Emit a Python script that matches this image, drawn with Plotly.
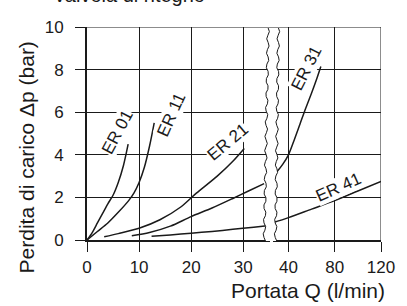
import numpy as np
import plotly.graph_objects as go

# ---------------- data ----------------
er01_q = [0, 1, 2, 3, 4, 5, 6, 7, 7.9]
er01_p = [0, 0.35, 0.8, 1.25, 1.7, 2.1, 2.7, 3.5, 4.5]

er11_q = [0, 2, 4, 6, 8, 9, 10, 11, 12, 12.9]
er11_p = [0, 0.4, 0.8, 1.3, 1.85, 2.2, 2.7, 3.4, 4.4, 5.5]

er21_q = [3.3, 6, 10, 14, 18, 21, 25, 28, 30.2]
er21_p = [0.15, 0.3, 0.55, 0.95, 1.55, 2.2, 3.0, 3.7, 4.3]

er31_low_q = [8.6, 12, 16, 20, 24, 28, 31, 34]
er31_low_p = [0.2, 0.35, 0.65, 1.1, 1.5, 1.95, 2.3, 2.65]
er31_high_q = [26, 30, 35, 40, 45, 50, 55, 60, 64, 68]
er31_high_p = [2.95, 3.2, 3.55, 4.0, 4.7, 5.45, 6.2, 6.9, 7.5, 8.15]

er41_low_q = [12.4, 16, 20, 24, 28, 32, 35]
er41_low_p = [0.18, 0.24, 0.32, 0.4, 0.5, 0.6, 0.68]
er41_high_q = [26, 40, 60, 80, 100, 120]
er41_high_p = [0.8, 1.05, 1.45, 1.85, 2.3, 2.75]

x_left_ticks = [0, 10, 20, 30]
x_right_ticks = [40, 80, 120]
y_ticks = [0, 2, 4, 6, 8, 10]

labels = ["ER 01", "ER 11", "ER 21", "ER 31", "ER 41"]

# ---------------- layout geometry ----------------
W, H = 407, 306
ML, MR, MT, MB = 87, 19, 27, 66
PW = W - ML - MR
PH = H - MT - MB
INK = "#1a1a1a"
FONT = "Liberation Sans, Arial, sans-serif"


def px_x(p):
    return (p - ML) / PW


def px_y(p):
    return (MT + PH - p) / PH


left_end_px, right_start_px = 274, 277
left_range = [0, (left_end_px - ML) / 5.333]
right_per_unit = 47.5 / 40
right_range = [40 - (293.3 - right_start_px) / right_per_unit, 120]

fig = go.Figure()

line = dict(color=INK, width=1.5, shape="spline", smoothing=0.8)
for q, p in [(er01_q, er01_p), (er11_q, er11_p), (er21_q, er21_p),
             (er31_low_q, er31_low_p), (er41_low_q, er41_low_p)]:
    fig.add_trace(go.Scatter(x=q, y=p, mode="lines", line=line,
                             xaxis="x", yaxis="y", hoverinfo="skip",
                             showlegend=False))
for q, p in [(er31_high_q, er31_high_p), (er41_high_q, er41_high_p)]:
    fig.add_trace(go.Scatter(x=q, y=p, mode="lines", line=line,
                             xaxis="x2", yaxis="y", hoverinfo="skip",
                             showlegend=False))

axis_common = dict(
    showgrid=True, gridcolor=INK, gridwidth=1,
    showline=True, linecolor=INK, linewidth=2,
    ticks="outside", ticklen=10, tickcolor=INK, tickwidth=1,
    zeroline=False,
    tickfont=dict(family=FONT, size=17, color=INK),
)

fig.update_layout(
    width=W, height=H,
    margin=dict(l=ML, r=MR, t=MT, b=MB),
    paper_bgcolor="white", plot_bgcolor="white",
    showlegend=False,
    xaxis=dict(domain=[0, px_x(left_end_px)], range=left_range,
               tickmode="array", tickvals=x_left_ticks, anchor="y",
               ticklabelstandoff=1, **axis_common),
    xaxis2=dict(domain=[px_x(right_start_px), 1], range=right_range,
                tickmode="array", tickvals=x_right_ticks, anchor="y",
                ticklabelstandoff=1, **axis_common),
    yaxis=dict(range=[0, 10], tickmode="array", tickvals=y_ticks,
               anchor="x", ticklabelstandoff=8, **axis_common),
)

# top border line and right border (grid lines at range ends)
shapes = [
    dict(type="line", xref="paper", yref="y", x0=0, x1=1, y0=10, y1=10,
         line=dict(color=INK, width=1), layer="below"),
    dict(type="line", xref="x2", yref="paper", x0=120, x1=120, y0=0, y1=1,
         line=dict(color=INK, width=1), layer="below"),
]

# axis break: white band between two wavy lines
ys = np.linspace(MT + 1, MT + PH + 1, 60)


def wavy(top_x, bot_x):
    return top_x + (bot_x - top_x) * (ys - MT) / PH + 1.3 * np.sin(2 * np.pi * ys / 14)


w1 = wavy(272.5, 268.5)
w2 = wavy(283, 280)
band = "M " + " L ".join(f"{px_x(x):.5f},{px_y(y):.5f}" for x, y in zip(w1, ys))
band += " L " + " L ".join(f"{px_x(x):.5f},{px_y(y):.5f}" for x, y in zip(w2[::-1], ys[::-1])) + " Z"
shapes.append(dict(type="path", xref="paper", yref="paper", path=band,
                   fillcolor="white", line=dict(width=0), layer="above"))
for w in (w1, w2):
    pth = "M " + " L ".join(f"{px_x(x):.5f},{px_y(y):.5f}" for x, y in zip(w, ys))
    shapes.append(dict(type="path", xref="paper", yref="paper", path=pth,
                       line=dict(color=INK, width=1), layer="above"))
fig.update_layout(shapes=shapes)

# curve labels
label_pos = [  # (xref, x, y, angle)
    ("x", 5.8, 5.05, -62),
    ("x", 16.2, 5.9, -66),
    ("x", 26.9, 4.6, -40),
    ("x2", 55.5, 8.05, -63),
    ("x2", 83.0, 2.45, -24),
]
for text, (xr, x, y, ang) in zip(labels, label_pos):
    fig.add_annotation(text=text, xref=xr, yref="y", x=x, y=y,
                       xanchor="center", yanchor="middle",
                       showarrow=False, textangle=ang, bgcolor="white",
                       borderpad=0,
                       font=dict(family=FONT, size=17, color=INK))

# titles
fig.add_annotation(text="Perdita di carico Δp (bar)", xref="paper", yref="paper",
                   x=px_x(26), y=px_y(157), xanchor="center", yanchor="middle",
                   showarrow=False, textangle=-90,
                   font=dict(family=FONT, size=21, color=INK))
fig.add_annotation(text="Portata Q (l/min)", xref="paper", yref="paper",
                   x=px_x(394), y=px_y(290), xanchor="right", yanchor="middle",
                   showarrow=False,
                   font=dict(family=FONT, size=21, color=INK))
fig.add_annotation(text="Valvola di ritegno", xref="paper", yref="paper",
                   x=px_x(50), y=px_y(8), xanchor="left", yanchor="bottom",
                   showarrow=False,
                   font=dict(family=FONT, size=20, color=INK))

fig.write_html("out.html",
               config={"displayModeBar": False},
               post_script="document.body.style.margin='0';"
                           "document.body.style.overflow='hidden';")
